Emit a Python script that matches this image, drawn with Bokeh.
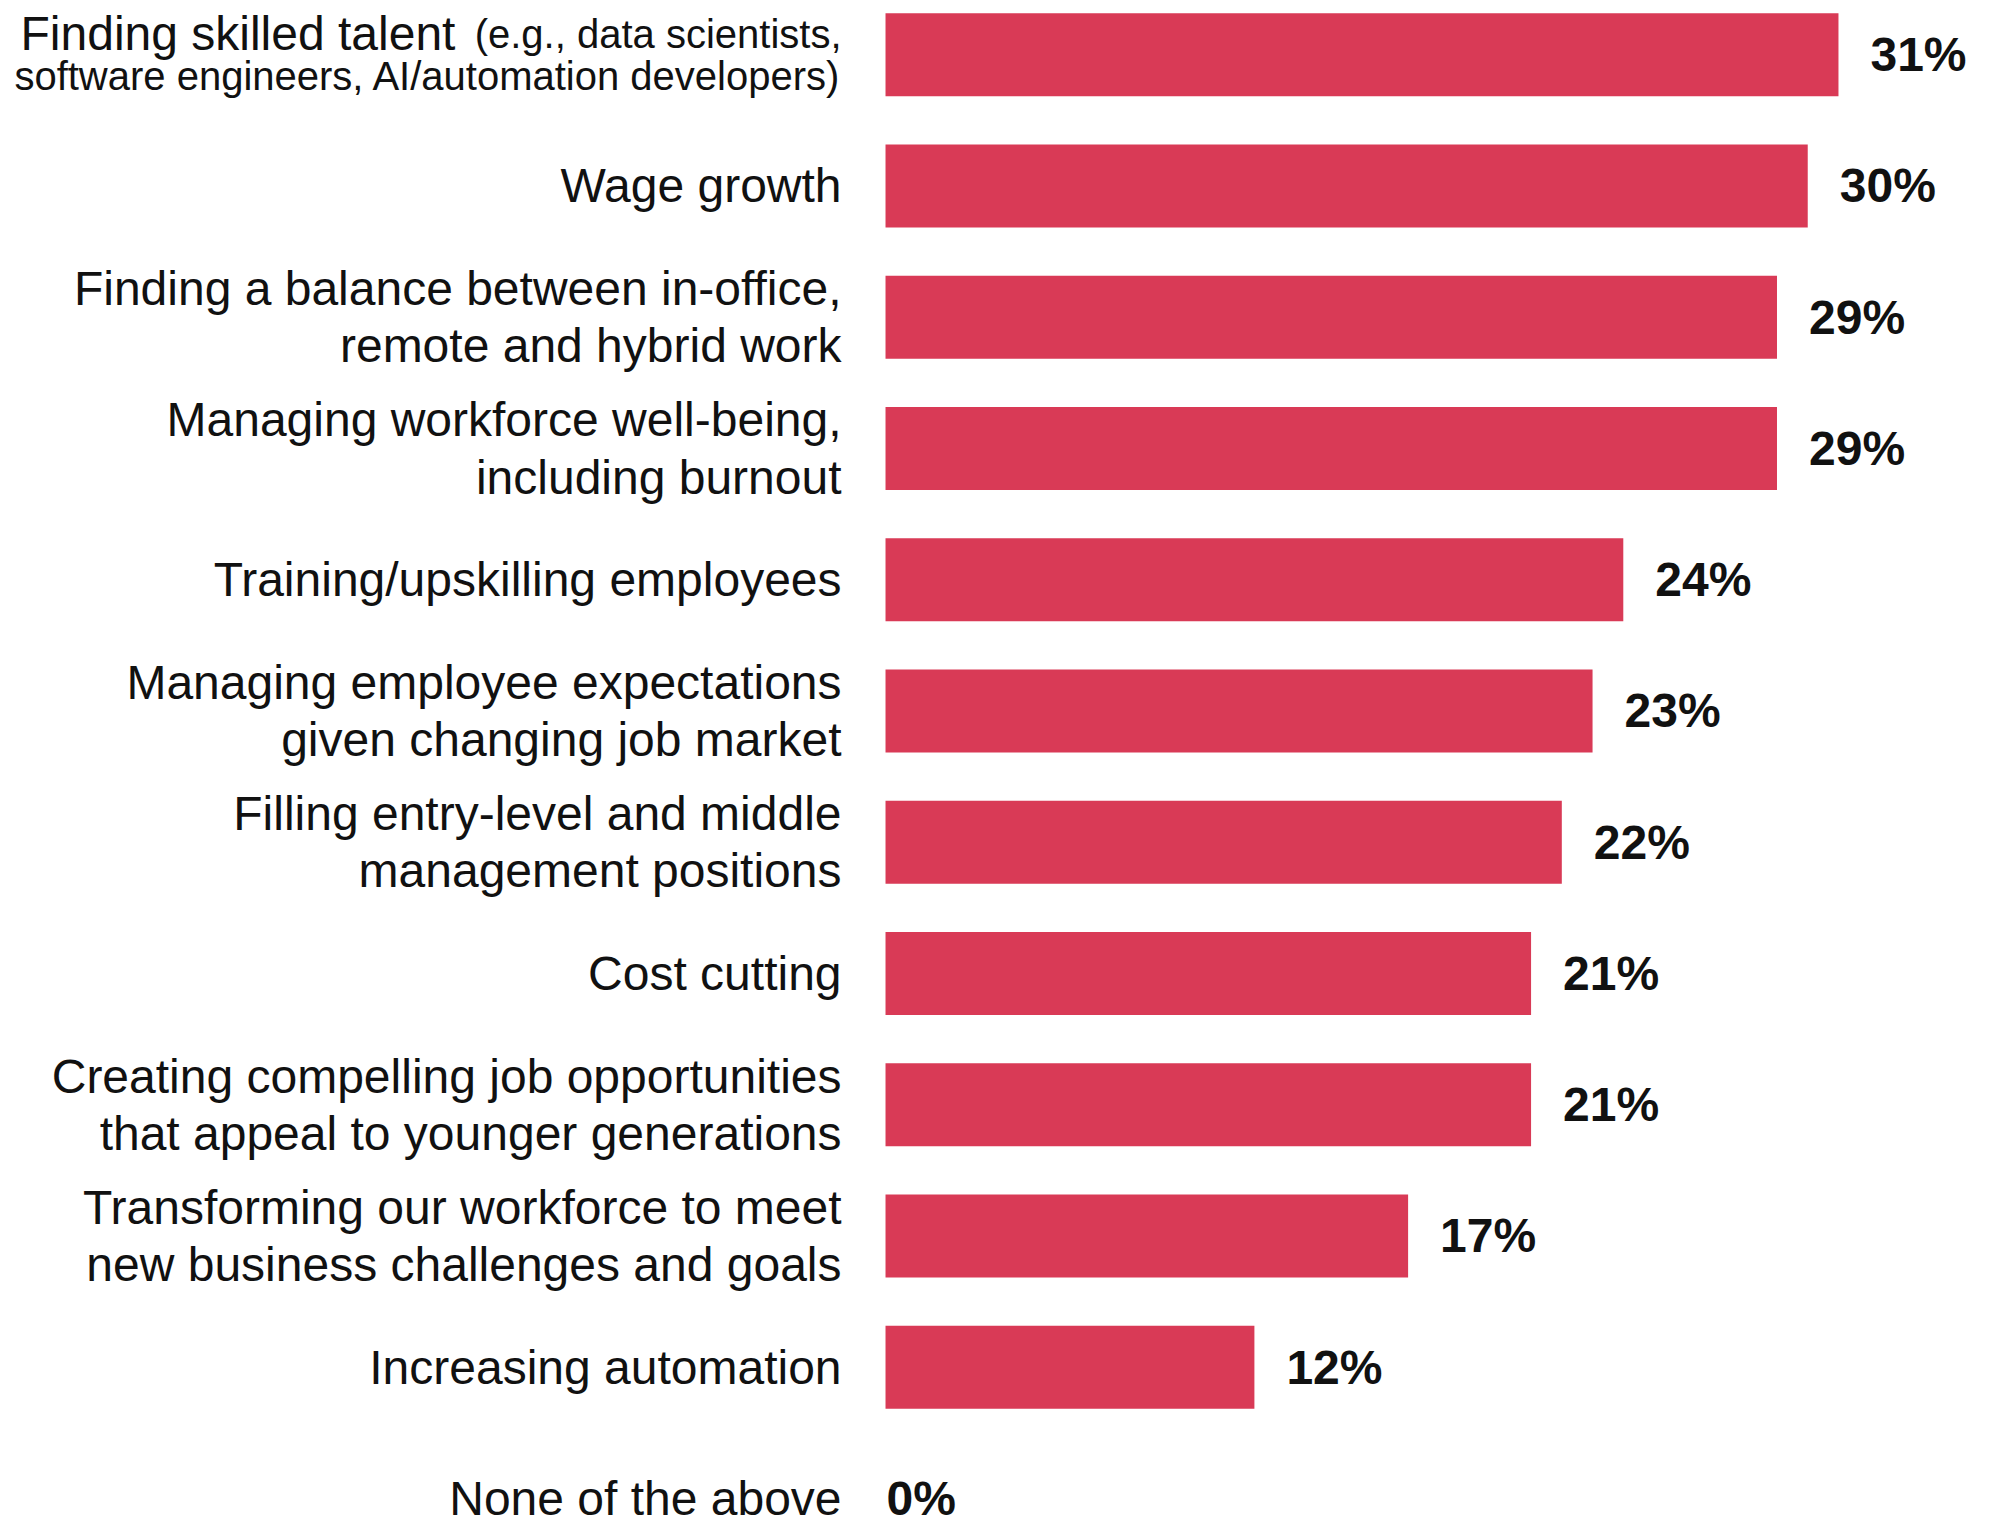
from bokeh.plotting import figure
from bokeh.models import Range1d, ColumnDataSource
from bokeh.core.properties import value
from bokeh.embed import file_html
from bokeh.resources import INLINE
import numpy as np

# ---- data ----
categories = [
    "Finding skilled talent",
    "Wage growth",
    "Finding a balance between in-office,\nremote and hybrid work",
    "Managing workforce well-being,\nincluding burnout",
    "Training/upskilling employees",
    "Managing employee expectations\ngiven changing job market",
    "Filling entry-level and middle\nmanagement positions",
    "Cost cutting",
    "Creating compelling job opportunities\nthat appeal to younger generations",
    "Transforming our workforce to meet\nnew business challenges and goals",
    "Increasing automation",
    "None of the above",
]
first_note = ["(e.g., data scientists,", "software engineers, AI/automation developers)"]
values = [31, 30, 29, 29, 24, 23, 22, 21, 21, 17, 12, 0]
value_labels = ["31%", "30%", "29%", "29%", "24%", "23%", "22%", "21%", "21%", "17%", "12%", "0%"]

BAR = "#D93A56"
FONT = "Liberation Sans"

idx = np.arange(len(categories))
vals = np.array(values, dtype=float)

p = figure(width=1976, height=1526, output_backend="svg", toolbar_location=None,
           x_range=Range1d(-28.79, 35.49), y_range=Range1d(11.214, -0.413),
           min_border=0, min_border_left=0, min_border_right=0,
           min_border_top=0, min_border_bottom=0)
p.axis.visible = False
p.grid.visible = False
p.outline_line_color = None
p.background_fill_color = "white"
p.border_fill_color = "white"

src = ColumnDataSource(dict(y=idx, right=vals, lab=value_labels,
                            off=np.where(vals > 0, 32, 1)))
p.hbar(y="y", left=0, right="right", height=0.632, source=src,
       fill_color=BAR, line_color=None)

# value labels
p.text(x="right", y="y", text="lab", x_offset="off", source=src,
       text_font=value(FONT), text_font_style="bold", text_font_size="48px",
       text_align="left", text_baseline="middle", text_color="#111111")

# category labels (all but first)
rest = ColumnDataSource(dict(y=idx[1:], cat=categories[1:]))
p.text(x=0, y="y", text="cat", source=rest, x_offset=-44,
       text_font=value(FONT), text_font_size="48px", text_line_height=1.08,
       text_align="right", text_baseline="middle", text_color="#111111")

# first label: mixed sizes
p.text(x=[0], y=[idx[0]], text=[categories[0]], x_offset=-865, y_offset=-21,
       text_font=value(FONT), text_font_size="48px",
       text_align="left", text_baseline="alphabetic", text_color="#111111")
p.text(x=[0], y=[idx[0]], text=[first_note[0]], x_offset=-44, y_offset=-21,
       text_font=value(FONT), text_font_size="40px",
       text_align="right", text_baseline="alphabetic", text_color="#111111")
p.text(x=[0], y=[idx[0]], text=[first_note[1]], x_offset=-44, y_offset=21,
       text_font=value(FONT), text_font_size="40px",
       text_align="right", text_baseline="alphabetic", text_color="#111111")

open("out.html", "w").write(file_html(p, INLINE))
